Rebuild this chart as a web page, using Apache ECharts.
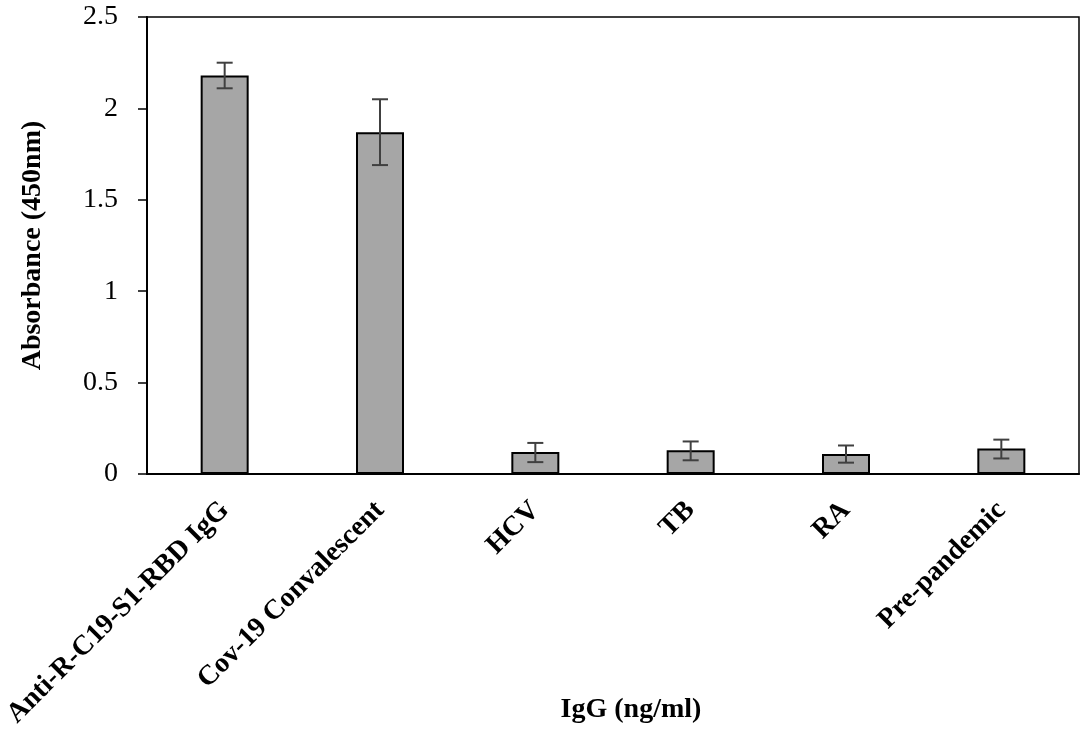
<!DOCTYPE html>
<html>
<head>
<meta charset="utf-8">
<script src="https://cdn.jsdelivr.net/npm/echarts@6/dist/echarts.min.js"></script>
<style>
  html, body { margin: 0; padding: 0; background: #fff; }
  #chart { width: 1084px; height: 734px; }
</style>
</head>
<body>
<div id="chart"></div>
<script>
// values
const categories = ['Anti-R-C19-S1-RBD IgG', 'Cov-19 Convalescent', 'HCV', 'TB', 'RA', 'Pre-pandemic'];
const absorbance = [2.18, 1.87, 0.12, 0.13, 0.11, 0.14];
const errLow = [2.11, 1.69, 0.065, 0.075, 0.062, 0.085];
const errHigh = [2.25, 2.05, 0.17, 0.178, 0.156, 0.188];

const font = 'Liberation Serif';
const myChart = echarts.init(document.getElementById('chart'));

const errData = categories.map((c, i) => [i, errLow[i], errHigh[i]]);

const option = {
  animation: false,
  grid: {
    left: 147, right: 5, top: 17, bottom: 260,
    outerBoundsMode: 'none',
    show: true, borderColor: '#000', borderWidth: 1.5, backgroundColor: '#fff'
  },
  xAxis: {
    type: 'category',
    data: categories,
    name: 'IgG (ng/ml)',
    nameLocation: 'middle',
    nameGap: 222,
    nameMoveOverlap: false,
    nameTextStyle: { fontFamily: font, fontSize: 28, fontWeight: 'bold', color: '#000', padding: [0, 0, 0, 36] },
    axisLine: { lineStyle: { color: '#000', width: 2 } },
    axisTick: { show: false },
    axisLabel: {
      rotate: 45, interval: 0, margin: 32,
      fontFamily: font, fontSize: 28, fontWeight: 'bold', color: '#000'
    }
  },
  yAxis: {
    type: 'value',
    min: 0, max: 2.5, interval: 0.5,
    name: 'Absorbance (450nm)',
    nameLocation: 'middle',
    nameGap: 100,
    nameMoveOverlap: false,
    nameTextStyle: { fontFamily: font, fontSize: 28, fontWeight: 'bold', color: '#000' },
    axisLine: { show: true, lineStyle: { color: '#000', width: 2 } },
    axisTick: { show: true, length: 9, lineStyle: { color: '#000', width: 1.5 } },
    splitLine: { show: false },
    axisLabel: { fontFamily: font, fontSize: 28, color: '#000', margin: 29 }
  },
  series: [
    {
      type: 'bar',
      data: absorbance,
      barWidth: 48,
      itemStyle: { color: '#a6a6a6', borderColor: '#000', borderWidth: 2 }
    },
    {
      type: 'custom',
      data: errData,
      z: 10,
      renderItem: function (params, api) {
        const x = api.value(0);
        const lo = api.coord([x, api.value(1)]);
        const hi = api.coord([x, api.value(2)]);
        const cap = 8;
        const style = { stroke: '#404040', lineWidth: 2 };
        return {
          type: 'group',
          children: [
            { type: 'line', shape: { x1: lo[0], y1: lo[1], x2: hi[0], y2: hi[1] }, style: style },
            { type: 'line', shape: { x1: lo[0] - cap, y1: lo[1], x2: lo[0] + cap, y2: lo[1] }, style: style },
            { type: 'line', shape: { x1: hi[0] - cap, y1: hi[1], x2: hi[0] + cap, y2: hi[1] }, style: style }
          ]
        };
      }
    }
  ]
};

myChart.setOption(option);
</script>
</body>
</html>
